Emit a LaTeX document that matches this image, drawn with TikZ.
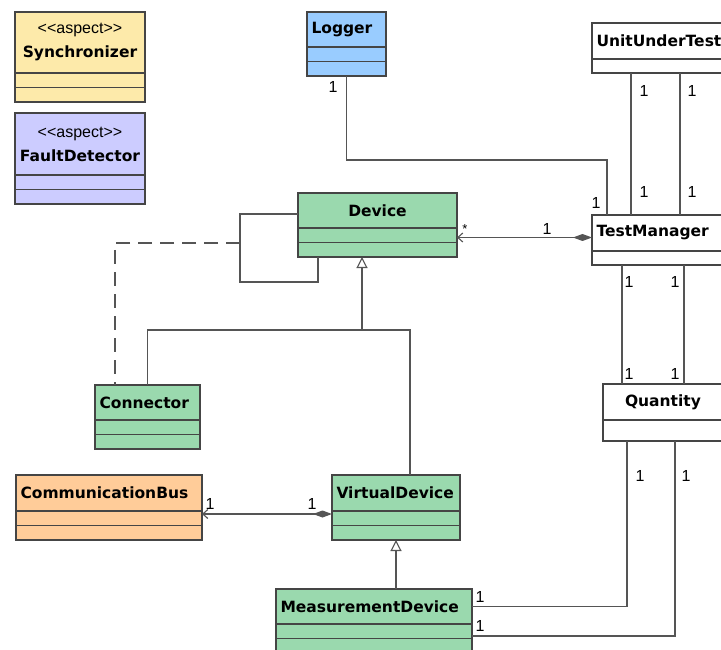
\documentclass[tikz,border=0pt]{standalone}
\usepackage{fontspec}
\usetikzlibrary{arrows.meta}
\newfontfamily\djv{DejaVu Sans}
\newfontfamily\lib{Liberation Sans}
\newcommand\clsfont{\djv\bfseries\fontsize{15.5}{19}\selectfont}
\newcommand\mulfont{\lib\mdseries\fontsize{16}{19}\selectfont}
\definecolor{synccol}{HTML}{FDEAAA}
\definecolor{faultcol}{HTML}{CCCCFF}
\definecolor{logcol}{HTML}{99CCFF}
\definecolor{devcol}{HTML}{9AD9AE}
\definecolor{buscol}{HTML}{FFCC99}
\definecolor{bordcol}{HTML}{454545}
\definecolor{linecol}{HTML}{555555}
\tikzset{
  hdr/.style={draw=bordcol, line width=1.5pt, anchor=north west, inner xsep=4.5pt, inner ysep=0pt, outer sep=0pt, font=\clsfont},
  cmp/.style={draw=bordcol, line width=1.5pt, anchor=north west, inner sep=0pt, outer sep=0pt, minimum height=14.5pt},
  mul/.style={font=\mulfont, inner sep=0pt},
  assoc/.style={draw=linecol, line width=1.6pt},
  inherit/.style={assoc, -{Triangle[open, length=11pt, width=11pt, line width=1.1pt]}},
  owns/.style={assoc, {Diamond[length=19pt, width=7pt]}-{Straight Barb[length=5pt, width=9pt, line width=1.1pt]}},
}
\begin{document}
\begin{tikzpicture}[x=1pt, y=-1pt]
    \fill[white] (0,0) rectangle (721,650);
    \clip (0,0) rectangle (721,650);

    \node[hdr, fill=synccol, text width=121pt, align=center, minimum height=61pt] (sync) at (15,12) {{\mulfont <\kern0pt<aspect>\kern0pt>}\\[5pt]Synchronizer};
    \node[cmp, fill=synccol, minimum width=130pt] (sync1) at (sync.south west) {};
    \node[cmp, fill=synccol, minimum width=130pt] (sync2) at (sync1.south west) {};

    \node[hdr, fill=faultcol, text width=121pt, align=center, minimum height=62pt] (fault) at (15,113) {{\mulfont <\kern0pt<aspect>\kern0pt>}\\[5pt]FaultDetector};
    \node[cmp, fill=faultcol, minimum width=130pt] (fault1) at (fault.south west) {};
    \node[cmp, fill=faultcol, minimum width=130pt] (fault2) at (fault1.south west) {};

    \node[hdr, fill=logcol, text width=70pt, align=left, minimum height=35pt] (log) at (307,12) {Logger};
    \node[cmp, fill=logcol, minimum width=79pt] (log1) at (log.south west) {};
    \node[cmp, fill=logcol, minimum width=79pt] (log2) at (log1.south west) {};

    \node[hdr, fill=white, text width=141pt, align=left, minimum height=36pt] (uut) at (592,23) {UnitUnderTest};
    \node[cmp, fill=white, minimum width=150pt, minimum height=14pt] (uut1) at (uut.south west) {};

    \node[hdr, fill=devcol, text width=150pt, align=center, minimum height=35pt] (dev) at (298,193) {Device};
    \node[cmp, fill=devcol, minimum width=159pt] (dev1) at (dev.south west) {};
    \node[cmp, fill=devcol, minimum width=159pt] (dev2) at (dev1.south west) {};

    \node[hdr, fill=white, text width=141pt, align=left, minimum height=36pt] (tm) at (592,215) {TestManager};
    \node[cmp, fill=white, minimum width=150pt, minimum height=14pt] (tm1) at (tm.south west) {};

    \node[hdr, fill=devcol, text width=96pt, align=left, minimum height=35pt] (con) at (95,385) {Connector};
    \node[cmp, fill=devcol, minimum width=105pt] (con1) at (con.south west) {};
    \node[cmp, fill=devcol, minimum width=105pt] (con2) at (con1.south west) {};

    \node[hdr, fill=white, text width=111pt, align=center, minimum height=36pt] (qty) at (603,384) {Quantity};
    \node[cmp, fill=white, minimum width=120pt, minimum height=21pt] (qty1) at (qty.south west) {};

    \node[hdr, fill=buscol, text width=177pt, align=left, minimum height=36pt] (cb) at (16,475) {CommunicationBus};
    \node[cmp, fill=buscol, minimum width=186pt] (cb1) at (cb.south west) {};
    \node[cmp, fill=buscol, minimum width=186pt] (cb2) at (cb1.south west) {};

    \node[hdr, fill=devcol, text width=119pt, align=left, minimum height=36pt] (vd) at (332,475) {VirtualDevice};
    \node[cmp, fill=devcol, minimum width=128pt] (vd1) at (vd.south west) {};
    \node[cmp, fill=devcol, minimum width=128pt] (vd2) at (vd1.south west) {};

    \node[hdr, fill=devcol, text width=187pt, align=left, minimum height=35pt] (md) at (276,589) {MeasurementDevice};
    \node[cmp, fill=devcol, minimum width=196pt] (md1) at (md.south west) {};
    \node[cmp, fill=devcol, minimum width=196pt] (md2) at (md1.south west) {};

    \coordinate (lgbend) at (450,160);
    \draw[assoc] (log2.south) |- (lgbend) -| ([xshift=15pt]tm.north west);
    \draw[assoc] ([xshift=39pt]uut1.south west) -- ([xshift=39pt]tm.north west);
    \draw[assoc] ([xshift=88pt]uut1.south west) -- ([xshift=88pt]tm.north west);

    \coordinate (tmdv) at ([yshift=-4.5pt]tm.west);
    \draw[owns] (tmdv) -- (tmdv -| dev1.east);

    \coordinate (dvself) at (240,282);
    \draw[assoc] ([yshift=-3.5pt]dev.west) -| (dvself) -| ([xshift=20pt]dev2.south west);
    \coordinate (dvasc) at (240,243);
    \draw[assoc, dash pattern=on 14pt off 8pt] (dvasc) -| ([xshift=20pt]con.north west);

    \coordinate (genbar) at (362,330);
    \draw[assoc] (con.north) |- (genbar) -| ([xshift=78pt]vd.north west);
    \draw[inherit] (genbar) -- (genbar |- dev2.south);

    \coordinate (vdcb) at ([yshift=4.25pt]vd1.west);
    \draw[owns] (vdcb) -- (vdcb -| cb1.east);
    \draw[inherit] (vd2.south |- md.north) -- (vd2.south);

    \draw[assoc] ([xshift=30pt]tm1.south west) -- ([xshift=19pt]qty.north west);
    \draw[assoc] ([xshift=92pt]tm1.south west) -- ([xshift=81pt]qty.north west);

    \draw[assoc] (md.east) -| ([xshift=24pt]qty1.south west);
    \coordinate (mdq) at ([yshift=-5pt]md1.east);
    \draw[assoc] (mdq) -| ([xshift=72pt]qty1.south west);

    \node[mul] (mlog) at (333,87) {1};
    \node[mul] (mtml) at (596,203) {1};
    \node[mul] (muut1) at (644,91) {1};
    \node[mul] (muut2) at (692,91) {1};
    \node[mul] (mtmu1) at (644,192) {1};
    \node[mul] (mtmu2) at (692,192) {1};
    \node[mul, font=\lib\fontsize{13}{15}\selectfont] (mdev) at (465,229) {*};
    \node[mul] (mtmd) at (547,229) {1};
    \node[mul] (mtmq1) at (629,282) {1};
    \node[mul] (mtmq2) at (675,282) {1};
    \node[mul] (mqtm1) at (629,374) {1};
    \node[mul] (mqtm2) at (675,374) {1};
    \node[mul] (mqmd1) at (640,476) {1};
    \node[mul] (mqmd2) at (686,476) {1};
    \node[mul] (mmdq1) at (480,597) {1};
    \node[mul] (mmdq2) at (480,626) {1};
    \node[mul] (mcb) at (210,504) {1};
    \node[mul] (mvd) at (312,504) {1};
\end{tikzpicture}
\end{document}
